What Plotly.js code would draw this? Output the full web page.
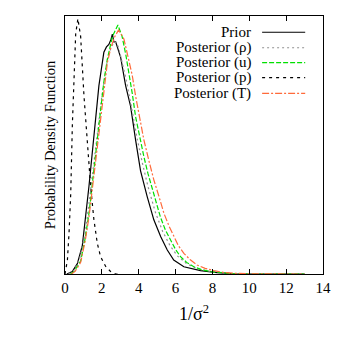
<!DOCTYPE html>
<html>
<head>
<meta charset="utf-8">
<script src="https://cdn.plot.ly/plotly-3.0.1.min.js"></script>
<style>body{margin:0;background:#fff}</style>
</head>
<body>
<div id="chart" style="width:346px;height:339px"></div>
<script>
// densities (peak of Posterior (p) ~ 1)
var xPrior = [0.1,0.4,0.67,0.94,1.3,1.57,1.84,2.11,2.25,2.38,2.5,2.57,2.65,2.75,3.02,3.29,3.56,3.83,4.1,4.46,4.82,5.19,5.55,5.9,6.45,7.35,8.26,9.16,10,12,13];
var yPrior = [0,0.01,0.04,0.11,0.34,0.545,0.73,0.86,0.88,0.89,0.91,0.93,0.90,0.90,0.84,0.73,0.65,0.52,0.40,0.30,0.21,0.145,0.093,0.054,0.028,0.013,0.005,0.001,0,0,0];

var xRho = [0.2,0.5,0.8,1.1,1.4,1.7,2.0,2.3,2.5,2.7,2.85,3.0,3.3,3.6,3.9,4.2,4.5,4.9,5.3,5.7,6.1,6.6,7.2,8.0,9.0,10,12,13];
var yRho = [0,0.015,0.06,0.16,0.33,0.52,0.69,0.83,0.88,0.90,0.89,0.85,0.76,0.65,0.53,0.43,0.34,0.24,0.165,0.11,0.07,0.04,0.02,0.008,0.002,0,0,0];

var xU = [0.3,0.5,0.85,1.1,1.3,1.5,1.66,1.93,2.1,2.29,2.45,2.57,2.7,2.87,3.0,3.1,3.3,3.47,3.65,3.83,4.05,4.28,4.5,4.73,4.95,5.18,5.45,5.73,6.0,6.27,6.6,6.99,7.4,7.9,8.5,9.16,10,12,13];
var yU = [0,0.01,0.05,0.14,0.235,0.36,0.46,0.64,0.74,0.83,0.88,0.92,0.94,0.965,0.94,0.92,0.85,0.78,0.70,0.61,0.53,0.455,0.39,0.33,0.27,0.22,0.17,0.13,0.095,0.067,0.045,0.028,0.017,0.009,0.004,0.001,0,0,0];

var xP = [0,0.13,0.22,0.31,0.4,0.49,0.58,0.7,0.85,1.03,1.21,1.39,1.57,1.75,1.93,2.2,2.47,2.75,3];
var yP = [0,0.054,0.16,0.31,0.58,0.80,0.93,0.99,0.92,0.69,0.51,0.34,0.21,0.12,0.067,0.03,0.01,0,0];

var xT = [0.35,0.55,0.85,1.1,1.3,1.5,1.7,1.93,2.1,2.3,2.5,2.7,2.9,3.05,3.2,3.35,3.5,3.65,3.83,4.05,4.28,4.55,4.82,5.1,5.37,5.65,5.9,6.15,6.45,6.8,7.17,7.6,8.07,8.6,9.16,10,12,13];
var yT = [0,0.01,0.045,0.13,0.22,0.34,0.46,0.62,0.72,0.82,0.88,0.92,0.945,0.93,0.91,0.86,0.82,0.77,0.69,0.61,0.52,0.44,0.365,0.30,0.235,0.185,0.145,0.11,0.08,0.055,0.035,0.022,0.013,0.006,0.003,0.001,0,0];

var names = ['Prior', 'Posterior (\u03c1)', 'Posterior (u)', 'Posterior (p)', 'Posterior (T)'];
var colors = ['#000000', '#909090', '#00e000', '#000000', '#ff6a3a'];
var dashes = ['solid', '2px,3px', '5px,2px', '3px,4px', '7px,2px,2px,2px'];
var xs = [xPrior, xRho, xU, xP, xT];
var ys = [yPrior, yRho, yU, yP, yT];

var data = [];
for (var i = 0; i < names.length; i++) {
  data.push({
    x: xs[i], y: ys[i], type: 'scatter', mode: 'lines', name: names[i],
    line: {color: colors[i], width: 1.2, dash: dashes[i]}
  });
}

// legend drawn by hand: text right-aligned, sample line on the right
var legY = [0.937, 0.877, 0.819, 0.761, 0.700];
var annotations = [], shapes = [];
for (var j = 0; j < names.length; j++) {
  annotations.push({
    xref: 'paper', yref: 'paper', x: 0.728, y: legY[j], xanchor: 'right', yanchor: 'middle',
    text: names[j], showarrow: false, font: {size: 15, color: '#000'}
  });
  shapes.push({
    type: 'line', xref: 'paper', yref: 'paper', x0: 0.764, x1: 0.931, y0: legY[j], y1: legY[j],
    line: {color: colors[j], width: 1.2, dash: dashes[j]}
  });
}

var layout = {
  width: 346, height: 339,
  margin: {l: 64.5, r: 23.3, t: 16, b: 65},
  paper_bgcolor: '#fff', plot_bgcolor: '#fff',
  font: {family: 'Liberation Serif, Times New Roman, serif', size: 15, color: '#000'},
  showlegend: false,
  xaxis: {
    range: [0, 14], tickvals: [0, 2, 4, 6, 8, 10, 12, 14],
    ticks: 'inside', ticklen: 5, tickcolor: '#000', mirror: 'ticks',
    showline: true, linecolor: '#000', linewidth: 1, showgrid: false, zeroline: false,
    title: {text: '1/\u03c3<sup>2</sup>', standoff: 12}
  },
  yaxis: {
    range: [0, 1.0], showticklabels: false, ticks: '',
    showline: true, linecolor: '#000', linewidth: 1, mirror: true, showgrid: false, zeroline: false,
    title: {text: 'Probability Density Function', standoff: 4, font: {size: 14.5}}
  },
  annotations: annotations,
  shapes: shapes
};

Plotly.newPlot('chart', data, layout, {displayModeBar: false, staticPlot: true});
</script>
</body>
</html>
